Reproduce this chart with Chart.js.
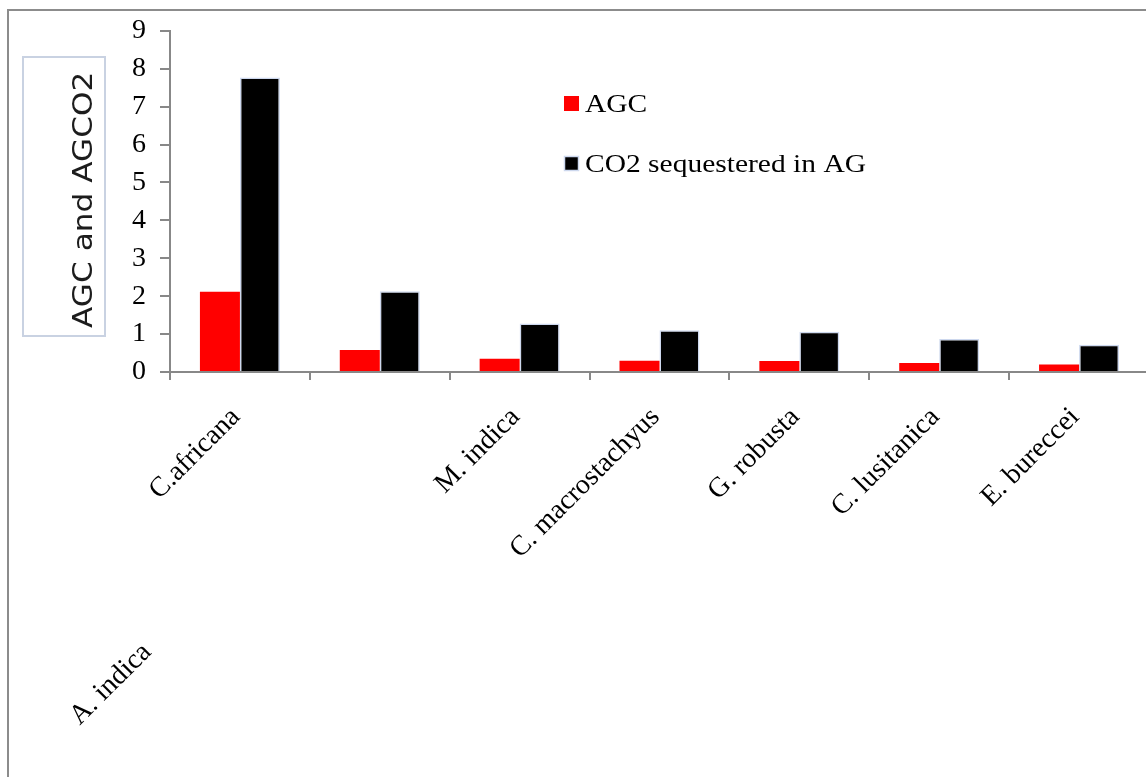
<!DOCTYPE html>
<html>
<head>
<meta charset="utf-8">
<script src="https://cdn.jsdelivr.net/npm/chart.js@4.4.0/dist/chart.umd.min.js"></script>
<style>
  html, body { margin: 0; padding: 0; background: #fff; overflow: hidden; width: 1146px; height: 777px; }
  #wrap { position: absolute; left: 0; top: 0; width: 1160px; height: 777px; }
  #frame { position: absolute; left: 7px; top: 9px; right: -20px; bottom: -20px;
           border-left: 2px solid #8c8c8c; border-top: 2px solid #8c8c8c; pointer-events: none; }
</style>
</head>
<body>
<div id="wrap"><canvas id="c" width="1160" height="777"></canvas></div>
<div id="frame"></div>
<script>
// Species sampled and carbon figures per species
const categories = ['C.africana', 'A. indica', 'M. indica', 'C. macrostachyus', 'G. robusta', 'C. lusitanica', 'E. bureccei'];
const agcValues = [2.12, 0.58, 0.35, 0.30, 0.29, 0.24, 0.20];
const co2Values = [7.77, 2.13, 1.28, 1.10, 1.06, 0.87, 0.72];
const seriesNames = ['AGC', 'CO2 sequestered in AG'];
const seriesColors = ['#ff0000', '#000000'];
const yTickValues = [0, 1, 2, 3, 4, 5, 6, 7, 8, 9];
const yTitle = 'AGC and AGCO2';
// this species name is printed down at the lower left instead of under its bars
const strayLabel = 'A. indica';

const SERIF = '"Liberation Serif", "Times New Roman", serif';
const AXIS_GREY = '#888888';

// Boxed, rotated y-axis caption
const yTitlePlugin = {
  id: 'yTitleBox',
  afterDraw(chart) {
    const ctx = chart.ctx;
    ctx.save();
    ctx.strokeStyle = '#c9d2e2';
    ctx.lineWidth = 2;
    ctx.strokeRect(23, 57, 82, 279);
    ctx.translate(92, 328);
    ctx.rotate(-Math.PI / 2);
    ctx.scale(1.2, 1);
    ctx.fillStyle = '#1c1c1c';
    ctx.font = '26px "DejaVu Sans", Verdana, sans-serif';
    ctx.textAlign = 'left';
    ctx.textBaseline = 'alphabetic';
    ctx.fillText(yTitle, 0, 0);
    ctx.restore();
  }
};

// Legend drawn inside the plot, one entry per line
const legendPlugin = {
  id: 'innerLegend',
  afterDraw(chart) {
    const ctx = chart.ctx;
    ctx.save();
    chart.data.datasets.forEach((ds, i) => {
      const top = 96 + i * 60;
      ctx.fillStyle = ds.backgroundColor;
      ctx.fillRect(564, top, 15, 15);
      if (i === 1) {
        ctx.strokeStyle = '#cdd8ee';
        ctx.lineWidth = 1.5;
        ctx.strokeRect(564.5, top + 0.5, 14, 14);
      }
      ctx.save();
      ctx.translate(585, top + 16);
      ctx.scale(1.18, 1);
      ctx.fillStyle = '#000';
      ctx.font = '25px ' + SERIF;
      ctx.textBaseline = 'alphabetic';
      ctx.fillText(ds.label, 0, 0);
      ctx.restore();
    });
    ctx.restore();
  }
};

// Species name that sits apart from the category axis
const strayLabelPlugin = {
  id: 'strayLabel',
  afterDraw(chart) {
    const ctx = chart.ctx;
    ctx.save();
    ctx.translate(147, 648);
    ctx.rotate(-Math.PI / 4);
    ctx.fillStyle = '#000';
    ctx.font = '28px ' + SERIF;
    ctx.textAlign = 'right';
    ctx.textBaseline = 'middle';
    ctx.fillText(strayLabel, 0, 0);
    ctx.restore();
  }
};

new Chart(document.getElementById('c'), {
  type: 'bar',
  data: {
    labels: categories,
    datasets: [
      { label: seriesNames[0], data: agcValues, backgroundColor: seriesColors[0], borderWidth: 0 },
      { label: seriesNames[1], data: co2Values, backgroundColor: seriesColors[1],
        borderColor: '#cdd8ee', borderWidth: 1.5 }
    ]
  },
  options: {
    responsive: false,
    animation: false,
    devicePixelRatio: 1,
    layout: { padding: { left: 110, top: 30, right: 11, bottom: 0 } },
    datasets: { bar: { categoryPercentage: 0.572, barPercentage: 1.0 } },
    plugins: { legend: { display: false }, tooltip: { enabled: false }, title: { display: false } },
    scales: {
      x: {
        grid: { drawOnChartArea: false, drawTicks: true, tickLength: 8, color: AXIS_GREY, lineWidth: 2, offset: true },
        border: { color: AXIS_GREY, width: 2 },
        ticks: {
          minRotation: 45, maxRotation: 45, autoSkip: false, padding: 21, labelOffset: -4,
          color: '#000', font: { family: SERIF, size: 28 },
          callback: function (v, i) { const l = this.getLabelForValue(v); return l === strayLabel ? '' : l; }
        },
        afterFit(scale) { scale.height = 405; }
      },
      y: {
        min: 0, max: 9,
        afterBuildTicks(scale) { scale.ticks = yTickValues.map(v => ({ value: v })); },
        grid: { drawOnChartArea: false, drawTicks: true, tickLength: 10, color: AXIS_GREY, lineWidth: 2 },
        border: { color: AXIS_GREY, width: 2 },
        ticks: { padding: 14, color: '#000', font: { family: SERIF, size: 28 } },
        afterFit(scale) { scale.width = 60; }
      }
    }
  },
  plugins: [yTitlePlugin, legendPlugin, strayLabelPlugin]
});
</script>
</body>
</html>
